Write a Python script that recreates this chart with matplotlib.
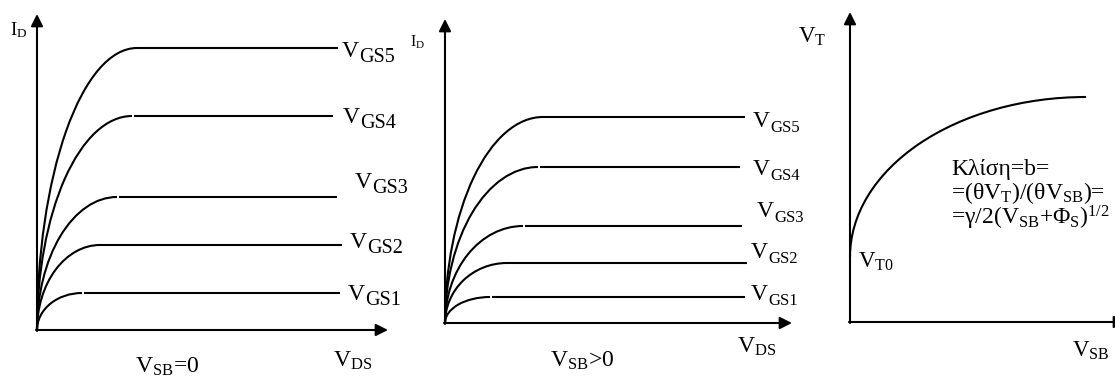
import matplotlib
matplotlib.use("Agg")
import matplotlib.pyplot as plt
from matplotlib.patches import Arc

plt.rcParams['font.family'] = ['Liberation Serif', 'DejaVu Serif']
plt.rcParams['mathtext.fontset'] = 'custom'
plt.rcParams['mathtext.rm'] = 'Liberation Serif'
plt.rcParams['mathtext.it'] = 'Liberation Serif:italic'

W, H = 1115, 379

# schematic values, in pixel units measured from each panel origin
gs_labels = ['GS1', 'GS2', 'GS3', 'GS4', 'GS5']

# panel 1: V_SB = 0
id_sat_0 = [37, 85, 133, 214, 282]      # saturation current levels
vds_knee_0 = [45, 63, 80, 95, 100]      # end of the triode region
vds_end_0 = [303, 305, 300, 296, 301]
gap_0 = [2, 0, 2, 2, 0]
lab_x_0 = [311, 313, 318, 306, 305]
lab_y_0 = [30, 82, 142, 207, 273]

# panel 2: V_SB > 0
id_sat_1 = [26, 60, 97, 156, 206]
vds_knee_1 = [45, 62, 78, 93, 98]
vds_end_1 = [300, 302, 297, 295, 300]
gap_1 = [2, 0, 2, 2, 0]
lab_x_1 = [306, 306, 312, 308, 308]
lab_y_1 = [23, 65, 106, 148, 196]

# panel 3: V_T against V_SB
vt0 = 65
vt_end = 225
vsb_end = 236

fig = plt.figure(figsize=(W / 100, H / 100), dpi=100)


def panel(x0, y0, x1, y1):
    # axes whose data units are pixels measured from the origin (x0, y0)
    ax = fig.add_axes([x0 / W, (H - y0) / H, (x1 - x0) / W, (y0 - y1) / H])
    ax.set_xlim(0, x1 - x0)
    ax.set_ylim(0, y0 - y1)
    ax.axis('off')
    arr = dict(arrowstyle='-|>', color='k', lw=1.5, mutation_scale=18,
               shrinkA=0, shrinkB=0)
    ax.annotate('', xy=(x1 - x0, 0), xytext=(-1, 0), arrowprops=arr,
                annotation_clip=False)
    ax.annotate('', xy=(0, y0 - y1), xytext=(0, -1), arrowprops=arr,
                annotation_clip=False)
    return ax


def curves(ax, levels, knees, ends, gaps, lx, ly, sub_size):
    for lev, k, e, g, x, y, name in zip(levels, knees, ends, gaps, lx, ly, gs_labels):
        ax.add_patch(Arc((k, 0), 2 * k, 2 * lev, theta1=90, theta2=180,
                         color='k', lw=1.5, clip_on=False))
        ax.plot([k + g, e], [lev, lev], color='k', lw=1.5,
                solid_capstyle='butt', clip_on=False)
        ax.text(x, y, 'V', fontsize=17, va='baseline', ha='left', clip_on=False)
        ax.annotate(name, xy=(x, y), xytext=(12.2, -3.5),
                    textcoords='offset points', fontsize=sub_size,
                    va='baseline', ha='left', annotation_clip=False)


ax1 = panel(37, 330, 388, 14)
curves(ax1, id_sat_0, vds_knee_0, vds_end_0, gap_0, lab_x_0, lab_y_0, 14.5)
ax1.text(-27, 295, r'$\mathrm{I_D}$', fontsize=13.5, va='baseline')
ax1.text(98, -43, r'$\mathrm{V_{SB}}$=0', fontsize=17, va='baseline')
ax1.text(296, -37, r'$\mathrm{V_{DS}}$', fontsize=17, va='baseline')

ax2 = panel(445, 323, 792, 19)
curves(ax2, id_sat_1, vds_knee_1, vds_end_1, gap_1, lab_x_1, lab_y_1, 12)
ax2.text(-35, 276, r'$\mathrm{I_D}$', fontsize=11.5, va='baseline')
ax2.text(105, -44, r'$\mathrm{V_{SB}}$>0', fontsize=17, va='baseline')
ax2.text(292, -30, r'$\mathrm{V_{DS}}$', fontsize=17, va='baseline')

ax3 = panel(850, 322, 1126, 12)
ax3.add_patch(Arc((vsb_end, vt0), 2 * vsb_end, 2 * (vt_end - vt0),
                  theta1=90, theta2=180, color='k', lw=1.5, clip_on=False))
ax3.text(-52, 279, r'$\mathrm{V_T}$', fontsize=16.5, va='baseline')
ax3.text(8, 54, r'$\mathrm{V_{T0}}$', fontsize=16.5, va='baseline')
ax3.text(222, -35, r'$\mathrm{V_{SB}}$', fontsize=16.5, va='baseline')
ax3.text(101, 147, 'Κλίση=b=', fontsize=17, va='baseline')
ax3.text(101, 123, r'=(θ$\mathrm{V_T}$)/(θ$\mathrm{V_{SB}}$)=', fontsize=17,
         va='baseline')
ax3.text(101, 97, r'=γ/2($\mathrm{V_{SB}}$+$\mathrm{Φ_S}$)$^{\mathrm{1/2}}$',
         fontsize=17, va='baseline')

fig.savefig('out.png', dpi=100, facecolor='white')
